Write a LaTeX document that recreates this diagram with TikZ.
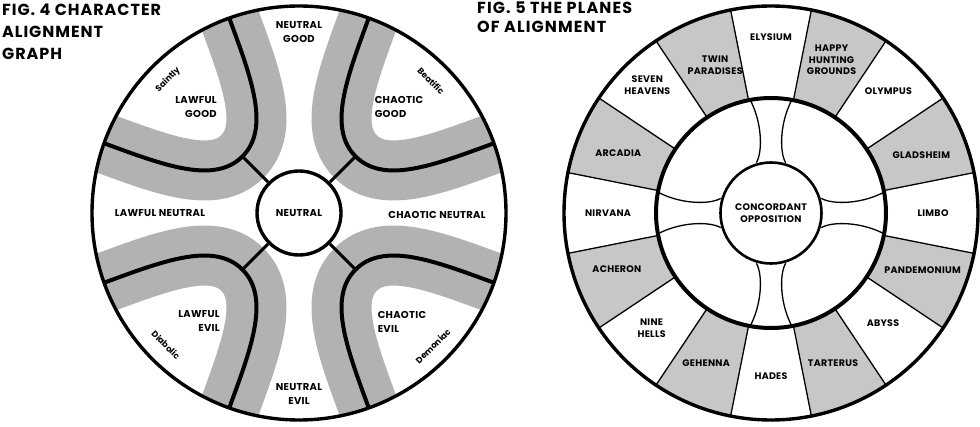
\documentclass[tikz,border=0pt]{standalone}
\usepackage{fontspec}
\setmainfont{Poppins}[LetterSpace=3]
\usepackage{tikz}

\begin{document}
\begin{tikzpicture}[x=1pt,y=1pt,
  lbl/.style={font=\bfseries\fontsize{10}{14.5}\selectfont, inner sep=0pt, align=center},
  plane/.style={font=\bfseries\fontsize{9.5}{11.5}\selectfont, inner sep=0pt, align=center},
  tag/.style={font=\bfseries\fontsize{8.5}{10}\selectfont\addfontfeature{LetterSpace=0}, inner sep=0pt},
  title/.style={font=\bfseries\fontsize{16}{21.7}\selectfont\addfontfeature{LetterSpace=6}, inner sep=0pt, align=left, anchor=north west},
  band/.style={draw=black!30, line width=60pt},
  alignline/.style={line width=4pt},
  spoke/.style={line width=3pt},
  ring/.style={line width=3.4pt},
  seam/.style={line width=1.3pt},
  shade/.style={fill=black!22}]

\useasboundingbox (0,0) rectangle (980,426);

% fig. 4
\node[title] (fig4) at (2,422) {FIG.~4 CHARACTER\\ALIGNMENT\\GRAPH};

\coordinate (lc) at (299,213);
\begin{scope}
  \clip (lc) circle (207);
  \foreach \a in {45,135,225,315}
    \draw[band, shift={(lc)}, rotate=\a] (240,-114) -- (186,-88) .. controls (130,-62) and (80,-40) .. (80,0)
      .. controls (80,40) and (130,62) .. (186,88) -- (240,114);
  \foreach \a in {45,135,225,315}
    \draw[alignline, shift={(lc)}, rotate=\a] (240,-114) -- (186,-88) .. controls (130,-62) and (80,-40) .. (80,0)
      .. controls (80,40) and (130,62) .. (186,88) -- (240,114);
\end{scope}

\node[circle, draw, ring, fill=white, minimum size=84pt, lbl] (neutral) at (lc) {NEUTRAL};
\foreach \a/\n in {45/cg,135/lg,225/le,315/ce} {
  \coordinate (\n) at ([shift={(\a:80)}]lc);
  \draw[spoke] (neutral.\a) -- (\n);
}
\draw[ring] (lc) circle (207);

\begin{scope}[shift={(lc)}]
  \node[lbl] (ng) at (0,181) {NEUTRAL\\GOOD};
  \node[lbl, align=right] (lgl) at (-103,106) {LAWFUL\\GOOD};
  \node[lbl, align=left] (cgl) at (100,106) {CHAOTIC\\GOOD};
  \node[lbl] (ln) at (-139,0) {LAWFUL NEUTRAL};
  \node[lbl] (cn) at (138,-2) {CHAOTIC NEUTRAL};
  \node[lbl, align=right] (lel) at (-100,-108) {LAWFUL\\EVIL};
  \node[lbl, align=left] (cel) at (103,-109) {CHAOTIC\\EVIL};
  \node[lbl] (ne) at (0,-181) {NEUTRAL\\EVIL};
  \node[tag, rotate=45] (saintly) at (-131,133) {Saintly};
  \node[tag, rotate=-45] (beatific) at (132,132) {Beatific};
  \node[tag, rotate=-45] (diabolic) at (-133,-132) {Diabolic};
  \node[tag, rotate=45] (demoniac) at (134,-133) {Demoniac};
\end{scope}

% fig. 5
\node[title, font=\bfseries\fontsize{16}{18.4}\selectfont\addfontfeature{LetterSpace=7}] (fig5) at (477,424) {FIG.~5 THE PLANES\\OF ALIGNMENT};

\coordinate (rc) at (771,213);
\begin{scope}[shift={(rc)}]
  \foreach \i in {0,...,7} {
    \pgfmathsetmacro\s{11.25+45*\i}
    \fill[shade] (\s:115) -- (\s:207) arc[start angle=\s, delta angle=22.5, radius=207]
      -- ({\s+22.5}:115) arc[start angle={\s+22.5}, delta angle=-22.5, radius=115] -- cycle;
  }
  \foreach \i in {0,...,15}
    \draw[seam] ({11.25+22.5*\i}:115) -- ({11.25+22.5*\i}:207);
  \foreach \a in {0,90,180,270} {
    \draw[seam, rotate=\a] (21.7,114.7) .. controls (9,92) and (8,62) .. (14.6,50.3);
    \draw[seam, rotate=\a] (-21.7,114.7) .. controls (-9,92) and (-8,62) .. (-14.6,50.3);
  }
\end{scope}

\node[circle, draw, line width=2.6pt, fill=white, minimum size=101pt, plane] (concord) at (rc) {CONCORDANT\\OPPOSITION};
\draw[line width=4pt] (rc) circle (115);
\draw[ring] (rc) circle (207);

\begin{scope}[shift={(rc)}]
  \node[plane] (elysium) at (90:176) {ELYSIUM};
  \node[plane] (hunting) at (68.4:164.6) {HAPPY\\HUNTING\\GROUNDS};
  \node[plane] (olympus) at (46:169) {OLYMPUS};
  \node[plane] (gladsheim) at (21:161) {GLADSHEIM};
  \node[plane] (limbo) at (0:162) {LIMBO};
  \node[plane] (pandemonium) at (-20.6:162) {PANDEMONIUM};
  \node[plane] (abyss) at (-44.5:157) {ABYSS};
  \node[plane] (tarterus) at (-67.5:162) {TARTERUS};
  \node[plane] (hades) at (-90:163) {HADES};
  \node[plane] (gehenna) at (246.7:164) {GEHENNA};
  \node[plane] (ninehells) at (224:166) {NINE\\HELLS};
  \node[plane] (acheron) at (200:164) {ACHERON};
  \node[plane] (nirvana) at (180:163) {NIRVANA};
  \node[plane] (arcadia) at (158.6:164) {ARCADIA};
  \node[plane] (heavens) at (134:178) {SEVEN\\HEAVENS};
  \node[plane] (paradises) at (110.7:158) {TWIN\\PARADISES};
\end{scope}

\end{tikzpicture}
\end{document}
